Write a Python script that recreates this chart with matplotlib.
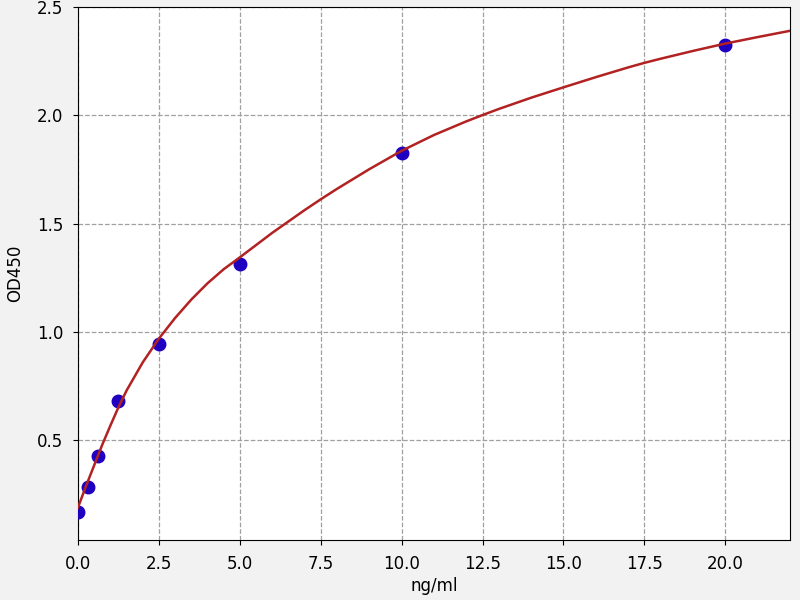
import numpy as np
import matplotlib
matplotlib.use('Agg')
import matplotlib.pyplot as plt

# standard points (concentration ng/ml, OD450)
conc = [0.0, 0.3125, 0.625, 1.25, 2.5, 5.0, 10.0, 20.0]
od = [0.17, 0.285, 0.426, 0.684, 0.946, 1.313, 1.826, 2.326]

# fitted curve
curve_x = [0.0, 0.25, 0.5, 0.75, 1.0, 1.25, 1.5, 2.0, 2.5, 3.0, 3.5, 4.0, 4.5,
           5.0, 6.0, 7.0, 7.5, 8.0, 9.0, 10.0, 11.0, 12.0, 12.5, 13.0, 14.0,
           15.0, 16.0, 17.0, 17.5, 18.0, 19.0, 20.0, 21.0, 22.0]
curve_y = [0.19, 0.29, 0.385, 0.48, 0.568, 0.653, 0.73, 0.86, 0.97, 1.065, 1.15,
           1.225, 1.29, 1.345, 1.458, 1.563, 1.613, 1.661, 1.752, 1.837, 1.910,
           1.973, 2.002, 2.03, 2.082, 2.13, 2.177, 2.222, 2.243, 2.262, 2.298,
           2.332, 2.362, 2.391]

xticks = [0.0, 2.5, 5.0, 7.5, 10.0, 12.5, 15.0, 17.5, 20.0]
yticks = [0.5, 1.0, 1.5, 2.0, 2.5]

fig = plt.figure(figsize=(8, 6), dpi=100, facecolor='#f2f2f2')
ax = fig.add_axes([0.0975, 0.1, 0.89, 0.888])
ax.set_facecolor('white')

ax.plot(conc, od, 'o', color='#1f00c0', markersize=9, zorder=3)
ax.plot(curve_x, curve_y, '-', color='#b22222', linewidth=1.8, zorder=4)

ax.set_xlim(0, 22)
ax.set_ylim(0.04, 2.5)
ax.set_xticks(xticks)
ax.set_yticks(yticks)
ax.tick_params(labelsize=12, pad=7)
ax.grid(True, linestyle='--', color='#a0a0a0', linewidth=0.9)
ax.set_axisbelow(True)

ax.set_xlabel('ng/ml', fontsize=12, labelpad=3)
ax.set_ylabel('OD450', fontsize=12, labelpad=9)

fig.savefig('out.png', dpi=100, facecolor=fig.get_facecolor())
